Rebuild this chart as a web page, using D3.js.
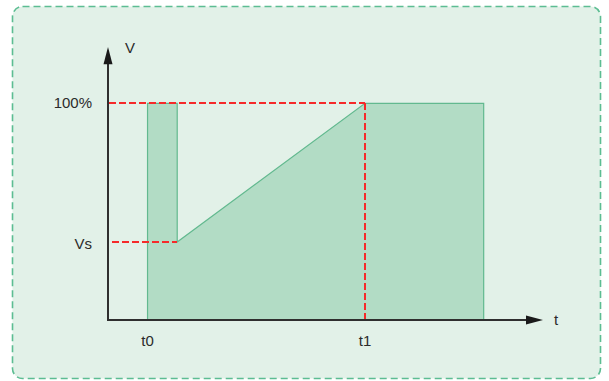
<!DOCTYPE html>
<html>
<head>
<meta charset="utf-8">
<script src="https://cdn.jsdelivr.net/npm/d3@7"></script>
<style>
  html, body { margin: 0; padding: 0; background: #fff; }
  svg { display: block; }
  text { font-family: "Liberation Sans", Arial, sans-serif; fill: #2b2b2b; }
</style>
</head>
<body>
<svg id="chart"></svg>
<script>
// waveform: time (arbitrary units) vs output voltage (%)
const times = [1, 1, 1.75, 1.75, 6.5, 9.5, 9.5];
const volts = [0, 100, 100, 36, 100, 100, 0];
const tickLabels = [{ t: 1, label: "t0" }, { t: 6.5, label: "t1" }];
const levelLabels = [{ v: 100, label: "100%" }, { v: 36, label: "Vs" }];

const width = 609, height = 381;
const svg = d3.select("#chart").attr("width", width).attr("height", height);

const x = d3.scaleLinear().domain([0, 11]).range([108, 543]);
const y = d3.scaleLinear().domain([0, 126]).range([320, 47]);

// panel
svg.append("rect")
  .attr("x", 12.5).attr("y", 6.5)
  .attr("width", 588).attr("height", 372)
  .attr("rx", 10)
  .attr("fill", "#e2f1e8")
  .attr("stroke", "#5cbd92")
  .attr("stroke-width", 1.6)
  .attr("stroke-dasharray", "7,4");

const pts = times.map((t, i) => [x(t), y(volts[i])]);

svg.append("path")
  .attr("d", d3.line()(pts) + "Z")
  .attr("fill", "#b2dcc5")
  .attr("stroke", "#62b98f")
  .attr("stroke-width", 1.2);

// red dashed guides
const guide = (x1, y1, x2, y2) =>
  svg.append("line")
    .attr("x1", Math.round(x1)).attr("y1", Math.round(y1))
    .attr("x2", Math.round(x2)).attr("y2", Math.round(y2))
    .attr("stroke", "#f52a2a")
    .attr("stroke-width", 2)
    .attr("stroke-dasharray", "7,3");

guide(x(0) + 1, y(100), x(6.5), y(100));
guide(x(0) + 4, y(36), x(1.75), y(36));
guide(x(6.5), y(100), x(6.5), y(0));

// axes with arrow heads
const axisColor = "#2f2f2f";
svg.append("line")
  .attr("x1", x(0)).attr("y1", y(0)).attr("x2", x(0)).attr("y2", y(120))
  .attr("stroke", axisColor).attr("stroke-width", 2);
svg.append("line")
  .attr("x1", x(0) - 1).attr("y1", y(0)).attr("x2", x(10.6)).attr("y2", y(0))
  .attr("stroke", axisColor).attr("stroke-width", 2);

svg.append("path")
  .attr("d", `M${x(0)},${y(126)} L${x(0) - 4.5},${y(118)} L${x(0) + 4.5},${y(118)} Z`)
  .attr("fill", "#1a1a1a");
svg.append("path")
  .attr("d", `M${x(11)},${y(0)} L${x(10.57)},${y(0) - 4.5} L${x(10.57)},${y(0) + 4.5} Z`)
  .attr("fill", "#1a1a1a");

// axis titles
svg.append("text").attr("x", x(0) + 22).attr("y", y(126) + 6)
  .attr("font-size", 15).attr("text-anchor", "middle").text("V");
svg.append("text").attr("x", x(11) + 13).attr("y", y(0) + 5)
  .attr("font-size", 15).attr("text-anchor", "middle").text("t");

// tick labels
svg.selectAll(".tlab").data(tickLabels).join("text")
  .attr("class", "tlab")
  .attr("x", d => x(d.t))
  .attr("y", y(0) + 26)
  .attr("font-size", 15)
  .attr("text-anchor", "middle")
  .text(d => d.label);

svg.selectAll(".vlab").data(levelLabels).join("text")
  .attr("class", "vlab")
  .attr("x", x(0) - 16)
  .attr("y", (d, i) => y(d.v) + (i === 0 ? 5 : 7))
  .attr("font-size", 15)
  .attr("text-anchor", "end")
  .text(d => d.label);
</script>
</body>
</html>
